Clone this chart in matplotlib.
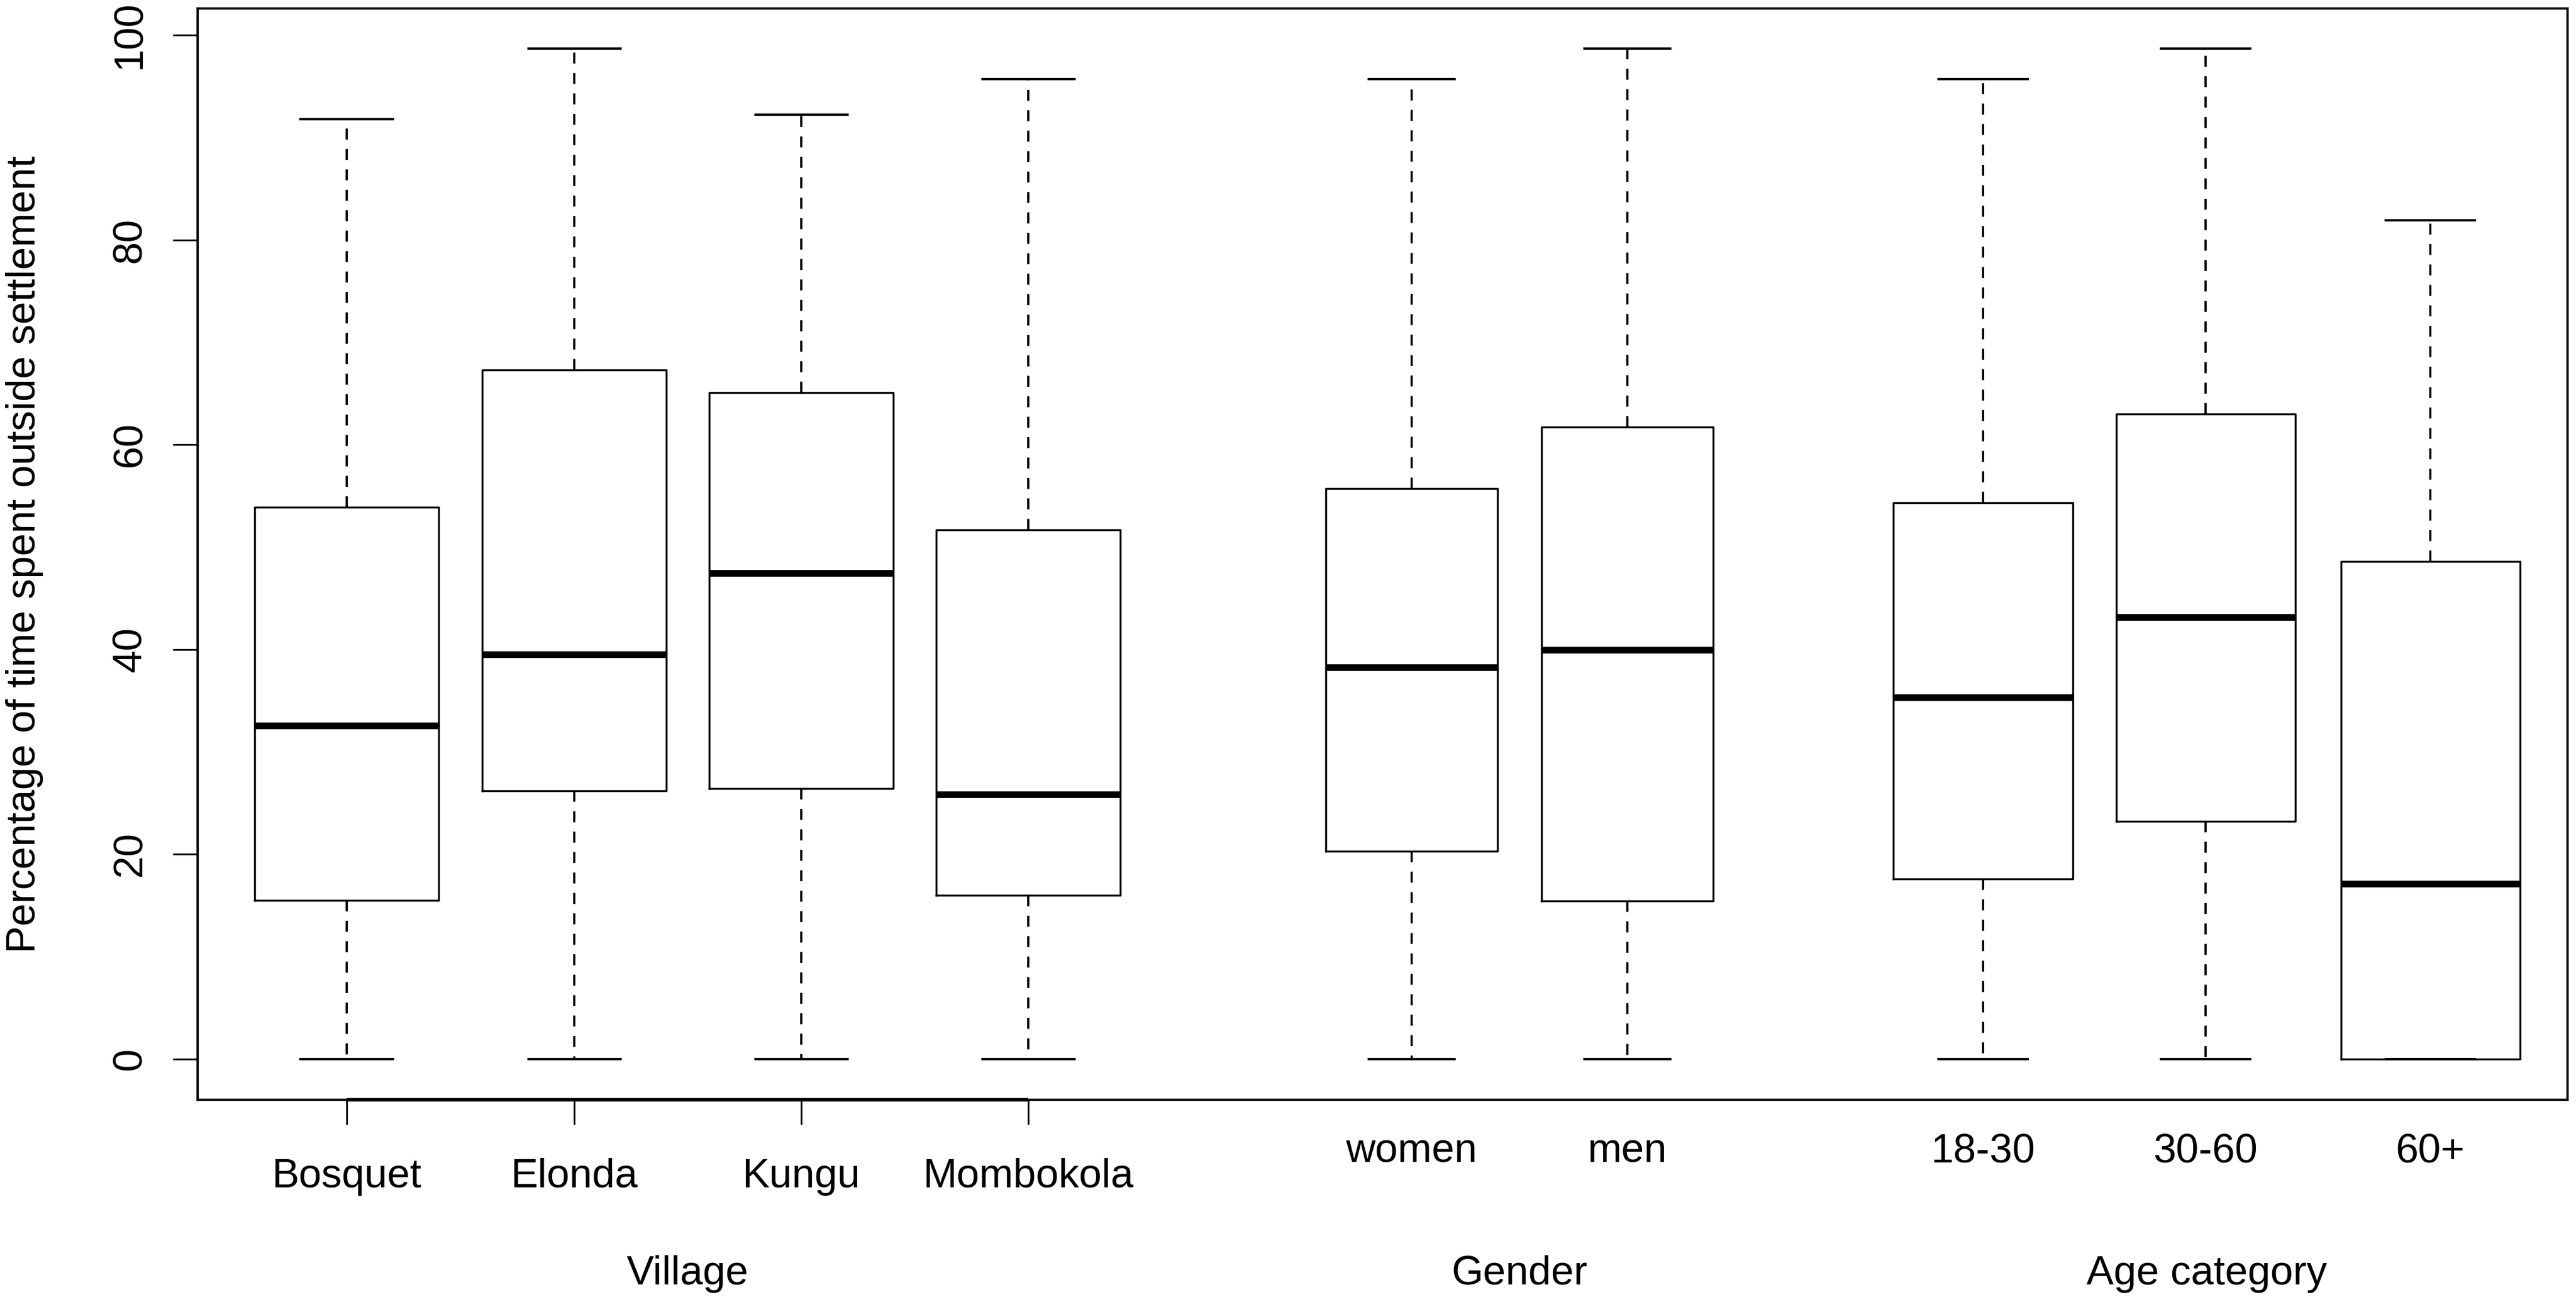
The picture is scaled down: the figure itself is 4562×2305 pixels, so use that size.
import matplotlib
matplotlib.use("Agg")
import matplotlib.pyplot as plt
import matplotlib.transforms as mtransforms

# values (percent of time spent outside settlement)
labels = ["Bosquet", "Elonda", "Kungu", "Mombokola",
          "women", "men",
          "18-30", "30-60", "60+"]
whisker_low = [0, 0, 0, 0, 0, 0, 0, 0, 0]
q1 = [15.5, 26.2, 26.4, 16.0, 20.3, 15.4, 17.6, 23.2, 0.0]
median = [32.5, 39.5, 47.4, 25.8, 38.2, 39.9, 35.3, 43.1, 17.1]
q3 = [53.9, 67.3, 65.1, 51.7, 55.7, 61.7, 54.3, 63.0, 48.6]
whisker_high = [91.8, 98.7, 92.2, 95.7, 95.7, 98.7, 95.7, 98.7, 81.9]

group_names = ["Village", "Gender", "Age category"]
group_members = [[0, 1, 2, 3], [4, 5], [6, 7, 8]]

# layout (pixel based, /100)
W, H = 4562, 2305
positions = [6.14, 10.17, 14.19, 18.21, 25.00, 28.82, 35.12, 39.06, 43.04]
widths = [3.26, 3.26, 3.26, 3.26, 3.04, 3.04, 3.17, 3.17, 3.17]
label_base_px = [2102, 2057, 2057]   # baseline of tick names per group
title_base_px = 2274

font = "Liberation Sans"
fsize = 52

plt.rcParams["font.family"] = [font, "DejaVu Sans"]

fig = plt.figure(figsize=(W / 100, H / 100), dpi=100)
ax = fig.add_axes([349.5 / W, 1 - 1947 / H, (4547 - 349.5) / W, (1947 - 15) / H])

stats = []
for i in range(len(labels)):
    stats.append({"whislo": whisker_low[i], "q1": q1[i], "med": median[i],
                  "q3": q3[i], "whishi": whisker_high[i], "fliers": [],
                  "label": labels[i]})

ax.bxp(stats, positions=positions, widths=widths,
       capwidths=[w / 2 for w in widths], showfliers=False,
       boxprops=dict(color="black", linewidth=2.5),
       whiskerprops=dict(color="black", linewidth=2.8, linestyle=(0, (5, 4.3))),
       capprops=dict(color="black", linewidth=3.0),
       medianprops=dict(color="black", linewidth=8.5, solid_capstyle="butt"))

ax.set_xlim(3.495, 45.47)
ax.set_ylim(-4, 102.6)

for s in ax.spines.values():
    s.set_linewidth(3.0)

ax.set_yticks([0, 20, 40, 60, 80, 100])
ax.set_yticklabels(["0", "20", "40", "60", "80", "100"], rotation=90,
                   va="center", fontsize=fsize)
ax.tick_params(axis="y", length=32, width=2.2, pad=30)

# only the first group has an x axis with ticks
vpos = [positions[i] for i in group_members[0]]
ax.set_xticks(vpos)
ax.set_xticklabels([])
ax.tick_params(axis="x", length=32, width=2.2)
ax.plot([vpos[0], vpos[-1]], [-4, -4], color="black", linewidth=4.5,
        clip_on=False, solid_capstyle="butt")

trans = mtransforms.blended_transform_factory(ax.transData, fig.transFigure)
for g, members in enumerate(group_members):
    for i in members:
        ax.text(positions[i], 1 - label_base_px[g] / H, labels[i],
                transform=trans, ha="center", va="baseline", fontsize=fsize)
    mid = (positions[members[0]] + positions[members[-1]]) / 2
    ax.text(mid, 1 - title_base_px / H, group_names[g], transform=trans,
            ha="center", va="baseline", fontsize=fsize)

fig.text(44 / W, 1 - 981 / H, "Percentage of time spent outside settlement",
         rotation=90, ha="center", va="center", fontsize=fsize)

fig.savefig("out.png", dpi=100, facecolor="white")
